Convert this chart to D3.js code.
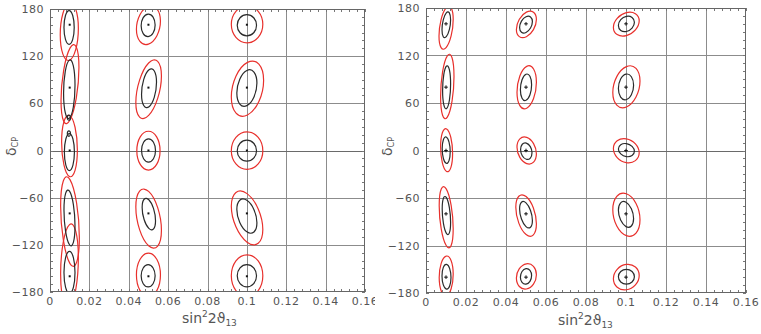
<!DOCTYPE html>
<html>
<head>
<meta charset="utf-8">
<script src="https://cdn.jsdelivr.net/npm/d3@7"></script>
<style>
  body { margin: 0; background: #fff; }
  svg { display: block; }
  .tick-label { font-family: "DejaVu Sans", sans-serif; font-size: 11px; fill: #555; letter-spacing: 0.5px; }
  .axis-title { font-family: "DejaVu Sans", sans-serif; fill: #555; }
</style>
</head>
<body>
<svg id="chart"></svg>
<script>
// tick values / labels
const xTicks = [0, 0.02, 0.04, 0.06, 0.08, 0.1, 0.12, 0.14, 0.16];
const xTickLabels = ["0", "0.02", "0.04", "0.06", "0.08", "0.1", "0.12", "0.14", "0.16"];
const yTicks = [-180, -120, -60, 0, 60, 120, 180];
const yTickLabels = ["\u2212180", "\u2212120", "\u221260", "0", "60", "120", "180"];

// true (simulated) points
const trueSin2 = [0.01, 0.05, 0.1];
const trueDelta = [160, 80, 0, -80, -160];

// contours: [top, right, bottom, left] extreme points in (sin^2 2theta13, deltaCP)
const leftBlack = [
  [[0.0096, 178], [0.0123, 160], [0.0093, 135], [0.0071, 160]],
  [[0.0110, 115.3], [0.0127, 85], [0.0090, 40.6], [0.0069, 75]],
  [[0.0096, 21.5], [0.0124, 0], [0.0096, -25.5], [0.0073, 0]],
  [[0.0081, -50.3], [0.0127, -90], [0.0113, -121.3], [0.0071, -70]],
  [[0.0096, -128.4], [0.0127, -160], [0.0096, -182], [0.0071, -160]],
  [[0.0502, 173.6], [0.0534, 160], [0.0495, 144.9], [0.0463, 159]],
  [[0.0519, 103.9], [0.0541, 87], [0.0481, 54.5], [0.0465, 72]],
  [[0.0498, 14.8], [0.0536, 0], [0.0498, -14.8], [0.0465, 0]],
  [[0.0481, -60.8], [0.0536, -88.3], [0.0519, -101], [0.0468, -71.4]],
  [[0.0498, -145.3], [0.0534, -160], [0.0498, -173.6], [0.0463, -160]],
  [[0.1, 172.8], [0.1049, 160], [0.1, 145.8], [0.0951, 160]],
  [[0.1019, 102.7], [0.1051, 84.9], [0.0985, 56.2], [0.0949, 72.2]],
  [[0.1, 13.1], [0.1049, 0], [0.1, -13.5], [0.0951, 0]],
  [[0.0983, -61.7], [0.1051, -88.3], [0.1022, -105.2], [0.0949, -71.4]],
  [[0.1, -145.3], [0.1049, -160], [0.1, -173.6], [0.0951, -160]],
  // small islands between delta = 0 and 80
  [[0.0096, 45], [0.0104, 42], [0.0096, 38.5], [0.0088, 42]],
  [[0.0096, 25], [0.0104, 21.5], [0.0096, 18], [0.0088, 21.5]]
];
const leftRed = [
  [[0.0105, 188], [0.0144, 160], [0.0076, 114.5], [0.0052, 152]],
  [[0.0118, 134.8], [0.0147, 106], [0.0070, 34.2], [0.0056, 64]],
  [[0.0093, 44.8], [0.0139, -5], [0.0110, -33.4], [0.0059, 5]],
  [[0.0073, -33.4], [0.0149, -105], [0.0135, -147.5], [0.0054, -65]],
  [[0.0076, -93.4], [0.0144, -150], [0.0100, -200], [0.0054, -170]],
  [[0.0502, 184], [0.0561, 165], [0.0490, 134.8], [0.0439, 154.6]],
  [[0.0519, 115.3], [0.0566, 97.6], [0.0473, 40.6], [0.0436, 63.8]],
  [[0.0498, 24.5], [0.0559, 0], [0.0498, -24.9], [0.0441, 0]],
  [[0.0481, -49], [0.0566, -96.8], [0.0524, -124.2], [0.0436, -67.2]],
  [[0.0498, -130.6], [0.0561, -160], [0.0498, -186], [0.0439, -160]],
  [[0.1, 184], [0.1081, 160], [0.1, 136.9], [0.0921, 160]],
  [[0.1022, 113.7], [0.1085, 89.2], [0.0980, 43.5], [0.0921, 68]],
  [[0.1, 23.7], [0.1081, 0], [0.1, -24.1], [0.0921, 0]],
  [[0.0980, -51.5], [0.1081, -101], [0.1030, -120], [0.0921, -71.4]],
  [[0.1, -132.7], [0.1081, -160], [0.1, -186], [0.0921, -160]]
];
const rightBlack = [
  [[0.0113, 175.1], [0.0123, 165.5], [0.0090, 142.5], [0.0080, 153]],
  [[0.0110, 107], [0.0123, 84], [0.0096, 52.7], [0.0083, 75.7]],
  [[0.0100, 17.1], [0.0121, -1.7], [0.0106, -16.3], [0.0081, 2.5]],
  [[0.0090, -58.1], [0.0123, -87.4], [0.0111, -106.2], [0.0081, -70.6]],
  [[0.0103, -143.8], [0.0125, -160.5], [0.0100, -175.1], [0.0080, -158.4]],
  [[0.0510, 169.7], [0.0532, 162.6], [0.0488, 148.4], [0.0468, 155.1]],
  [[0.0510, 96.6], [0.0528, 81.9], [0.0485, 63.1], [0.0472, 75.7]],
  [[0.0498, 9.6], [0.0530, -1.7], [0.0505, -11.3], [0.0473, 2.5]],
  [[0.0485, -64.4], [0.0532, -87.4], [0.0515, -97.8], [0.0468, -72.7]],
  [[0.0498, -149.2], [0.0528, -158.4], [0.0498, -168.9], [0.0472, -160.5]],
  [[0.1008, 169.7], [0.1042, 161.3], [0.0992, 150.1], [0.0962, 157.2]],
  [[0.1008, 96.6], [0.1038, 79.8], [0.0992, 64], [0.0962, 75.7]],
  [[0.0997, 8.8], [0.1042, -1.7], [0.1008, -7.9], [0.0962, 1.3]],
  [[0.0987, -64.4], [0.1038, -85.3], [0.1013, -97], [0.0962, -74.8]],
  [[0.1, -150.1], [0.1042, -160.5], [0.1, -168.9], [0.0962, -160.5]]
];
const rightRed = [
  [[0.0120, 182.2], [0.0136, 167.6], [0.0078, 127.9], [0.0065, 146.7]],
  [[0.0116, 121.6], [0.0140, 92.4], [0.0086, 40.1], [0.0073, 67.3]],
  [[0.0096, 27.6], [0.0133, -3.8], [0.0110, -26.8], [0.0073, 4.6]],
  [[0.0083, -45.6], [0.0136, -95.7], [0.0120, -122.9], [0.0066, -66.5]],
  [[0.0103, -133.3], [0.0136, -158.4], [0.0100, -183.5], [0.0066, -162.6]],
  [[0.0518, 176], [0.0552, 165.5], [0.0477, 142.5], [0.0452, 153]],
  [[0.0518, 107], [0.0552, 88.2], [0.0485, 52.7], [0.0455, 75.7]],
  [[0.0493, 17.1], [0.0552, -3.8], [0.0510, -17.1], [0.0455, 4.6]],
  [[0.0477, -56], [0.0552, -91.5], [0.0518, -108.3], [0.0449, -70.6]],
  [[0.0498, -143], [0.0552, -158.4], [0.0498, -175.1], [0.0452, -162.6]],
  [[0.1017, 174.7], [0.1066, 163.4], [0.0983, 144.6], [0.0937, 155.1]],
  [[0.1013, 107], [0.1070, 88.2], [0.0987, 53.9], [0.0934, 73.6]],
  [[0.0992, 15], [0.1066, -2.9], [0.1013, -15.5], [0.0937, 2.5]],
  [[0.0980, -53.9], [0.1070, -87.4], [0.1020, -108.3], [0.0934, -74.8]],
  [[0.1, -143.8], [0.1066, -158.4], [0.1, -176], [0.0937, -162.6]]
];

const totalWidth = 761;
const totalHeight = 334;

const panels = [
  { id: "l", box: [50, 365, 9, 292], clipW: 375, black: leftBlack, red: leftRed, marker: "dot", title: [182, 323] },
  { id: "r", box: [426, 746, 8, 293], clipW: 761, black: rightBlack, red: rightRed, marker: "plus", title: [558, 325] }
];

const svg = d3.select("#chart").attr("width", totalWidth).attr("height", totalHeight);
const defs = svg.append("defs");

let clipX = 0;
panels.forEach((p) => {
  const [x0, x1, y0, y1] = p.box;

  // each panel is a cut-out image, the left one is cropped on its right side
  defs.append("clipPath").attr("id", "panel-" + p.id)
    .append("rect").attr("x", clipX).attr("y", 0)
    .attr("width", p.clipW - clipX).attr("height", totalHeight);
  defs.append("clipPath").attr("id", "plot-" + p.id)
    .append("rect").attr("x", x0).attr("y", y0)
    .attr("width", x1 - x0).attr("height", y1 - y0);
  clipX = p.clipW;

  const xScale = d3.scaleLinear().domain([0, 0.16]).range([x0, x1]);
  const yScale = d3.scaleLinear().domain([-180, 180]).range([y1, y0]);

  const g = svg.append("g").attr("clip-path", "url(#panel-" + p.id + ")");

  // grid lines
  const grid = g.append("g");
  grid.selectAll(".vg").data(xTicks.slice(1, -1)).enter().append("line")
    .attr("x1", (d) => Math.round(xScale(d)) + 0.5).attr("x2", (d) => Math.round(xScale(d)) + 0.5)
    .attr("y1", y0).attr("y2", y1)
    .attr("stroke", "#8c8c8c").attr("stroke-width", 1);
  grid.selectAll(".hg").data(yTicks.slice(1, -1)).enter().append("line")
    .attr("y1", (d) => Math.round(yScale(d)) + 0.5).attr("y2", (d) => Math.round(yScale(d)) + 0.5)
    .attr("x1", x0).attr("x2", x1)
    .attr("stroke", (d) => (d === 0 ? "#6a6a6a" : "#8c8c8c")).attr("stroke-width", 1);

  // minor ticks (inside, all four sides)
  const minorX = d3.range(0, 0.16 + 1e-9, 0.004);
  const minorY = d3.range(-180, 181, 10);
  const ticks = g.append("g").attr("stroke", "#777").attr("stroke-width", 1);
  minorX.forEach((v) => {
    const xx = Math.round(xScale(v)) + 0.5;
    ticks.append("line").attr("x1", xx).attr("x2", xx).attr("y1", y0).attr("y2", y0 + 3);
    ticks.append("line").attr("x1", xx).attr("x2", xx).attr("y1", y1).attr("y2", y1 - 3);
  });
  minorY.forEach((v) => {
    const yy = Math.round(yScale(v)) + 0.5;
    ticks.append("line").attr("x1", x0).attr("x2", x0 + 3).attr("y1", yy).attr("y2", yy);
    ticks.append("line").attr("x1", x1).attr("x2", x1 - 3).attr("y1", yy).attr("y2", yy);
  });

  // contour as an ellipse through its extreme points: unit circle mapped by
  // matrix [[rx, 0], [ry, vy]] so that the right/left points and the top/bottom
  // extent are hit exactly
  const ellipseMatrix = (c) => {
    const [top, right, bottom, left] = c;
    const cx = (xScale(right[0]) + xScale(left[0])) / 2;
    const cy = (yScale(top[1]) + yScale(bottom[1])) / 2;
    const rx = (xScale(right[0]) - xScale(left[0])) / 2;
    const ry = (yScale(right[1]) - yScale(left[1])) / 2;
    const ty = (yScale(bottom[1]) - yScale(top[1])) / 2;
    const vy = Math.sqrt(Math.max(ty * ty - ry * ry, 1));
    return `matrix(${rx},${ry},0,${vy},${cx},${cy})`;
  };
  const plot = g.append("g").attr("clip-path", "url(#plot-" + p.id + ")");
  [[p.red, "#e8302c"], [p.black, "#2a2a2a"]].forEach(([set, color]) => {
    plot.append("g").selectAll("ellipse").data(set).enter().append("ellipse")
      .attr("cx", 0).attr("cy", 0).attr("rx", 1).attr("ry", 1)
      .attr("transform", ellipseMatrix)
      .attr("vector-effect", "non-scaling-stroke")
      .attr("fill", "none").attr("stroke", color).attr("stroke-width", 1.2);
  });

  // true points
  const pts = [];
  trueSin2.forEach((s) => trueDelta.forEach((dl) => pts.push([s, dl])));
  if (p.marker === "dot") {
    plot.selectAll(".pt").data(pts).enter().append("rect")
      .attr("x", (d) => xScale(d[0]) - 1).attr("y", (d) => yScale(d[1]) - 1)
      .attr("width", 2).attr("height", 2).attr("fill", "#111");
  } else {
    plot.selectAll(".pt").data(pts).enter().append("path")
      .attr("d", (d) => {
        const cx = xScale(d[0]), cy = yScale(d[1]);
        return `M${cx - 1.8},${cy}H${cx + 1.8}M${cx},${cy - 1.8}V${cy + 1.8}`;
      })
      .attr("stroke", "#111").attr("stroke-width", 1);
  }

  // frame
  g.append("rect").attr("x", x0 + 0.5).attr("y", y0 + 0.5)
    .attr("width", x1 - x0 - 1).attr("height", y1 - y0 - 1)
    .attr("fill", "none").attr("stroke", "#666").attr("stroke-width", 1);

  // tick labels
  g.selectAll(".xl").data(xTicks).enter().append("text")
    .attr("class", "tick-label")
    .attr("x", (d) => xScale(d)).attr("y", y1 + 13)
    .attr("text-anchor", "middle")
    .text((d, i) => xTickLabels[i]);
  g.selectAll(".yl").data(yTicks).enter().append("text")
    .attr("class", "tick-label")
    .attr("x", x0 - 6).attr("y", (d) => yScale(d) + 4)
    .attr("text-anchor", "end")
    .text((d, i) => yTickLabels[i]);

  // axis titles
  const xt = g.append("text").attr("class", "axis-title")
    .attr("x", p.title[0]).attr("y", p.title[1]).attr("font-size", 14);
  xt.append("tspan").text("sin");
  xt.append("tspan").attr("font-size", 9).attr("dy", -6).text("2");
  xt.append("tspan").attr("dy", 6).text("2\u03d1");
  xt.append("tspan").attr("font-size", 9).attr("dy", 3).text("13");

  const yt = g.append("text").attr("class", "axis-title")
    .attr("transform", `translate(${x0 - 34.5},156) rotate(-90)`)
    .attr("font-size", 14);
  yt.append("tspan").text("\u03b4");
  yt.append("tspan").attr("font-size", 8).attr("dy", 2).text("CP");
});
</script>
</body>
</html>
